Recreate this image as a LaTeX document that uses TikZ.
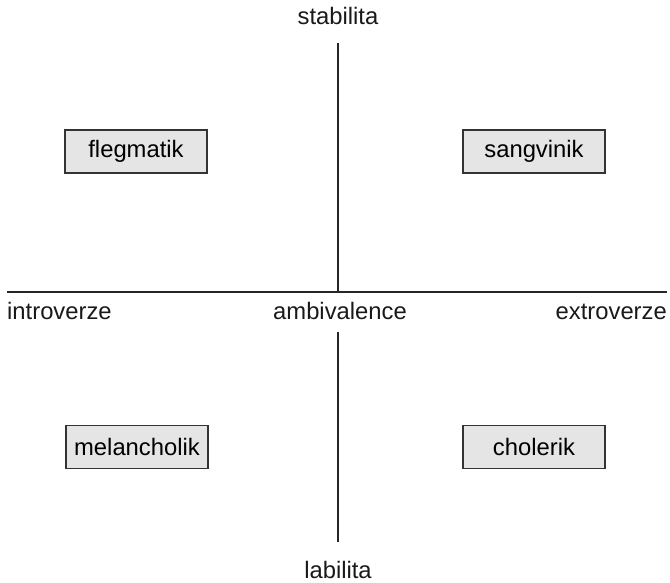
\documentclass[tikz,border=0pt]{standalone}
\usepackage{fontspec}
\setmainfont{Liberation Sans}
\begin{document}
\begin{tikzpicture}[x=1pt,y=1pt,
  axis/.style={line width=1.1pt, black!85},
  label/.style={font=\fontsize{23.8}{28}\selectfont, text=black!90, inner sep=0pt},
  typebox/.style={draw=black!80, line width=1.1pt, fill=black!10, minimum width=142pt,
    minimum height=43pt, inner sep=0pt, font=\fontsize{23.8}{28}\selectfont}]
  \useasboundingbox (0,0) rectangle (670,583);

  % axis labels
  \node[label, anchor=base] (stab) at (338,558) {stabilita};
  \node[label, anchor=base] (lab) at (338,4) {labilita};
  \node[label, anchor=base west] (intro) at (7,263) {introverze};
  \node[label, anchor=base] (amb) at (340,263) {ambivalence};
  \node[label, anchor=base east] (extro) at (667,263) {extroverze};

  % axes
  \coordinate (L) at (7,291);
  \coordinate (R) at (667,291);
  \coordinate (O) at (338,291);
  \coordinate (T) at (338,540);
  \coordinate (B1) at (338,251);
  \coordinate (B2) at (338,41);
  \draw[axis] (L) -- (R);
  \draw[axis] (T) -- (O);
  \draw[axis] (B1) -- (B2);

  % temperament boxes
  \node[typebox] (fleg) at (136,431.5) {flegmatik};
  \node[typebox] (sang) at (534,431.5) {sangvinik};
  \node[typebox] (mel) at (137,136) {melancholik};
  \node[typebox] (chol) at (534,136) {cholerik};
\end{tikzpicture}
\end{document}
